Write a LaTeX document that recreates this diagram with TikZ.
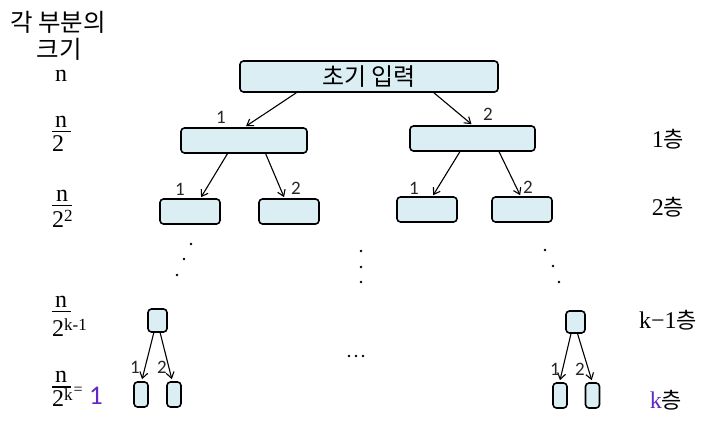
\documentclass[tikz,border=0pt]{standalone}
\usepackage{fontspec}
\setmainfont{Liberation Serif}
\newfontfamily\kor{Noto Sans CJK KR}
\newfontfamily\lbl{Carlito}
\usetikzlibrary{arrows.meta,calc}
\definecolor{boxfill}{RGB}{219,238,244}
\definecolor{purp}{RGB}{98,40,200}
\newcommand\mysup[1]{\raisebox{6pt}{\fontsize{17}{17}\selectfont #1}}
\tikzset{
  bx/.style={draw=black, line width=1.6pt, rounded corners=3.5pt, fill=boxfill, inner sep=0pt},
  arr/.style={-{Straight Barb[length=6pt,width=8pt]}, line width=1.1pt},
  num/.style={font=\lbl\fontsize{19}{19}\selectfont, inner sep=0pt, text=black!85},
  side/.style={font=\fontsize{24}{24}\selectfont, inner sep=0pt},
  kside/.style={font=\kor\fontsize{24.5}{24.5}\selectfont, inner sep=0pt},
  bar/.style={line width=1.2pt},
  dotm/.style={fill=black, circle, inner sep=0pt, minimum size=2.6pt}
}
\begin{document}
\begin{tikzpicture}[x=1pt,y=-1pt]
\useasboundingbox (0,0) rectangle (723,435);
% left column
\node[kside] (t1) at (58,22) {각 부분의};
\node[kside] (t2) at (59,49) {크기};
\node[side, anchor=base] (f0) at (61,82) {n};
% n/2
\node[side, anchor=base] (f1n) at (61,128) {n};
\draw[bar] (52,131.5) -- (71,131.5);
\node[side, anchor=base west] (f1d) at (52,152) {2};
% n/2^2
\node[side, anchor=base] (f2n) at (62,202) {n};
\draw[bar] (52,205.5) -- (72,205.5);
\node[side, anchor=base west] (f2d) at (52,228) {2\mysup{2}};
% n/2^{k-1}
\node[side, anchor=base] (f3n) at (61,308) {n};
\draw[bar] (52,311.5) -- (71,311.5);
\node[side, anchor=base west] (f3d) at (52,337) {2\mysup{k-1}};
% n/2^k = 1
\node[side, anchor=base] (f4n) at (61,383) {n};
\draw[bar] (52,387) -- (71,387);
\node[side, anchor=base west] (f4d) at (52,407) {2\mysup{k}};
\node[font=\fontsize{16}{16}\selectfont, inner sep=0pt, anchor=base west] (eq) at (73.5,395) {=};
\node[font=\lbl\fontsize{27}{27}\selectfont, text=purp, inner sep=0pt, anchor=base west] (one) at (89,405) {1};
% right column
\node[side, anchor=base] (r1) at (668,148) {1\kor\fontsize{22}{22}\selectfont 층};
\node[side, anchor=base] (r2) at (668,216) {2\kor\fontsize{22}{22}\selectfont 층};
\node[side, anchor=base] (r3) at (668,329) {k−1\kor\fontsize{22}{22}\selectfont 층};
\node[side, anchor=base] (r4) at (666,409) {\textcolor{purp}{k}\kor\fontsize{22}{22}\selectfont 층};
% boxes
\node[bx, minimum width=258pt, minimum height=31pt] (top) at (369,76.5) {\kor\fontsize{24}{24}\selectfont 초기 입력};
\node[bx, minimum width=126pt, minimum height=25pt] (L1a) at (244,140.5) {};
\node[bx, minimum width=125pt, minimum height=25pt] (L1b) at (472.5,138.5) {};
\node[bx, minimum width=60pt, minimum height=25pt] (L2a) at (190,211.5) {};
\node[bx, minimum width=60pt, minimum height=25pt] (L2b) at (289,211.5) {};
\node[bx, minimum width=60pt, minimum height=25pt] (L2c) at (427,209.5) {};
\node[bx, minimum width=60pt, minimum height=25pt] (L2d) at (522,209.5) {};
\node[bx, minimum width=19pt, minimum height=23pt] (Kl) at (157.5,320.5) {};
\node[bx, minimum width=14pt, minimum height=25pt] (Kl1) at (141,394.5) {};
\node[bx, minimum width=14pt, minimum height=25pt] (Kl2) at (174,394.5) {};
\node[bx, minimum width=19pt, minimum height=22pt] (Kr) at (575.5,322) {};
\node[bx, minimum width=14pt, minimum height=25pt] (Kr1) at (560,395.5) {};
\node[bx, minimum width=14pt, minimum height=25pt] (Kr2) at (592.5,395.5) {};
% arrows
\draw[arr] ($(top.south west)!0.22!(top.south east)$) -- ($(L1a.north)+(2,-1)$);
\draw[arr] ($(top.south west)!0.75!(top.south east)$) -- ($(L1b.north)+(-1,-1)$);
\draw[arr] ($(L1a.south west)!0.37!(L1a.south east)$) -- ($(L2a.north west)!0.68!(L2a.north east)+(0,-1)$);
\draw[arr] ($(L1a.south west)!0.67!(L1a.south east)$) -- ($(L2b.north west)!0.42!(L2b.north east)+(0,-1)$);
\draw[arr] ($(L1b.south west)!0.40!(L1b.south east)$) -- ($(L2c.north west)!0.60!(L2c.north east)+(0,-1)$);
\draw[arr] ($(L1b.south west)!0.71!(L1b.south east)$) -- ($(L2d.north west)!0.47!(L2d.north east)+(0,-1)$);
\draw[arr] ($(Kl.south west)!0.32!(Kl.south east)$) -- ($(Kl1.north west)!0.57!(Kl1.north east)+(0,-2)$);
\draw[arr] ($(Kl.south west)!0.63!(Kl.south east)$) -- ($(Kl2.north west)!0.36!(Kl2.north east)+(0,-2)$);
\draw[arr] ($(Kr.south west)!0.28!(Kr.south east)$) -- ($(Kr1.north west)!0.5!(Kr1.north east)+(0,-2)$);
\draw[arr] ($(Kr.south west)!0.6!(Kr.south east)$) -- ($(Kr2.north west)!0.45!(Kr2.north east)+(0,-2)$);
% arrow labels
\node[num] (n1) at (221,117) {1};
\node[num] (n2) at (488,114) {2};
\node[num] (n3) at (180,189) {1};
\node[num] (n4) at (296,188) {2};
\node[num] (n5) at (414,188) {1};
\node[num] (n6) at (528,187) {2};
\node[num] (n7) at (135,367) {1};
\node[num] (n8) at (162,367) {2};
\node[num] (n9) at (555,369) {1};
\node[num] (n10) at (580,369) {2};
% dots
\node[dotm] (d1) at (191,244) {};
\node[dotm] (d2) at (184,259) {};
\node[dotm] (d3) at (177,275) {};
\node[dotm] (d4) at (361,251) {};
\node[dotm] (d5) at (361,267) {};
\node[dotm] (d6) at (361,282) {};
\node[dotm] (d7) at (545,250) {};
\node[dotm] (d8) at (553,266) {};
\node[dotm] (d9) at (559,282) {};
\node[dotm] (d10) at (349,356) {};
\node[dotm] (d11) at (356,356) {};
\node[dotm] (d12) at (363,356) {};
\end{tikzpicture}
\end{document}
